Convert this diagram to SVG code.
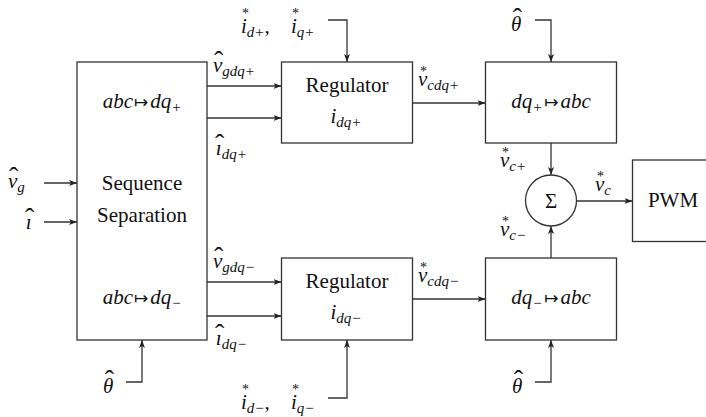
<svg xmlns="http://www.w3.org/2000/svg" width="706" height="417" viewBox="0 0 706 417">
<style>
.box{fill:#fff;stroke:#333;stroke-width:1.3}
.w{fill:none;stroke:#333;stroke-width:1.3}
.a{marker-end:url(#ah)}
text{font-family:'Liberation Serif','DejaVu Serif',serif;fill:#111}
.m{font-style:italic;font-size:21px}
.s{font-style:italic;font-size:15px}
.t{font-size:21px}
.as{font-style:normal;font-size:14px}
.hat{font-style:normal;font-size:28px}
.c{text-anchor:middle}
.n{font-style:normal;font-family:'DejaVu Sans',sans-serif;font-size:17px}
</style>
<defs>
<marker id="ah" viewBox="0 0 8 6" refX="8" refY="3" markerWidth="8" markerHeight="6" markerUnits="userSpaceOnUse" orient="auto">
<path d="M0,0 L8,3 L0,6 L2,3 z" fill="#222"/>
</marker>
</defs>
<rect width="706" height="417" fill="#fff"/>

<g id="connectors">
<path class="w a" d="M44,183 H77"/>
<path class="w a" d="M44,222 H77"/>
<path class="w a" d="M207,86 H281.5"/>
<path class="w a" d="M207,118 H281.5"/>
<path class="w a" d="M207,282 H281.5"/>
<path class="w a" d="M207,316 H281.5"/>
<path class="w a" d="M328,20 H347 V62"/>
<path class="w a" d="M328,398 H347 V340"/>
<path class="w a" d="M412.5,103 H485.5"/>
<path class="w a" d="M412.5,299 H485.5"/>
<path class="w a" d="M535,20 H551 V62"/>
<path class="w a" d="M535,382 H551 V340"/>
<path class="w a" d="M126,382 H142 V340"/>
<path class="w a" d="M551,143 V175"/>
<path class="w a" d="M551,258 V226"/>
<path class="w a" d="M576.5,201 H632.5"/>
</g>

<g id="sep">
<rect class="box" x="77" y="62" width="130" height="278"/>
<text class="m c" x="142" y="108">abc<tspan class="n" dx="1">↦</tspan><tspan dx="2">dq</tspan><tspan class="s" dy="4">+</tspan></text>
<text class="t c" x="142" y="190">Sequence</text>
<text class="t c" x="142" y="222">Separation</text>
<text class="m c" x="142" y="304">abc<tspan class="n" dx="1">↦</tspan><tspan dx="2">dq</tspan><tspan class="s" dy="4">−</tspan></text>
</g>

<g id="reg_plus">
<rect class="box" x="281.5" y="62" width="131" height="81"/>
<text class="t c" x="347" y="92">Regulator</text>
<text class="m c" x="346" y="123">i<tspan class="s" dy="4">dq+</tspan></text>
</g>

<g id="reg_minus">
<rect class="box" x="281.5" y="258" width="131" height="82"/>
<text class="t c" x="347" y="288">Regulator</text>
<text class="m c" x="346" y="319">i<tspan class="s" dy="4">dq−</tspan></text>
</g>

<g id="inv_plus">
<rect class="box" x="485.5" y="62" width="131" height="81"/>
<text class="m c" x="551" y="108">dq<tspan class="s" dy="4">+</tspan><tspan class="n" dy="-4" dx="2">↦</tspan><tspan dx="2">abc</tspan></text>
</g>

<g id="inv_minus">
<rect class="box" x="485.5" y="258" width="131" height="82"/>
<text class="m c" x="551" y="304">dq<tspan class="s" dy="4">−</tspan><tspan class="n" dy="-4" dx="2">↦</tspan><tspan dx="2">abc</tspan></text>
</g>

<g id="sum">
<circle class="box" cx="551" cy="200.5" r="25.5"/>
<text class="t c" x="551" y="208">Σ</text>
</g>

<g id="pwm">
<rect class="box" x="632.5" y="160" width="80" height="81.5"/>
<text class="t c" x="673" y="207">PWM</text>
</g>

<g id="labels">
<text class="m" x="213" y="72">v<tspan class="hat" dx="-8.3" dy="-2.5">ˆ</tspan><tspan class="s" dx="-1" dy="6.5">gdq+</tspan></text>
<text class="m" x="215" y="155">ı<tspan class="hat" dx="-6.6" dy="-2.5">ˆ</tspan><tspan class="s" dx="-2.7" dy="6.5">dq+</tspan></text>
<text class="m" x="213" y="268">v<tspan class="hat" dx="-8.3" dy="-2.5">ˆ</tspan><tspan class="s" dx="-1" dy="6.5">gdq−</tspan></text>
<text class="m" x="215" y="345">ı<tspan class="hat" dx="-6.6" dy="-2.5">ˆ</tspan><tspan class="s" dx="-2.7" dy="6.5">dq−</tspan></text>
<text class="m" x="8" y="188">v<tspan class="hat" dx="-8.3" dy="-2.5">ˆ</tspan><tspan class="s" dx="-1" dy="6.5">g</tspan></text>
<text class="m" x="25" y="229">ı<tspan class="hat" dx="-6.6" dy="-2.5">ˆ</tspan></text>

<text class="m" x="241" y="33">i<tspan class="as" dx="-4.8" dy="-15">*</tspan><tspan class="s" dx="-2.2" dy="19">d+</tspan><tspan dy="-4">,</tspan></text>
<text class="m" x="291" y="33">i<tspan class="as" dx="-4.8" dy="-15">*</tspan><tspan class="s" dx="-2.2" dy="19">q+</tspan></text>
<text class="m" x="241" y="409">i<tspan class="as" dx="-4.8" dy="-15">*</tspan><tspan class="s" dx="-2.2" dy="19">d−</tspan><tspan dy="-4">,</tspan></text>
<text class="m" x="291" y="409">i<tspan class="as" dx="-4.8" dy="-15">*</tspan><tspan class="s" dx="-2.2" dy="19">q−</tspan></text>

<text class="m" x="511" y="31">θ<tspan class="hat" dx="-8.6" dy="-4.5">ˆ</tspan></text>
<text class="m" x="103" y="393">θ<tspan class="hat" dx="-8.6" dy="-4.5">ˆ</tspan></text>
<text class="m" x="512" y="393">θ<tspan class="hat" dx="-8.6" dy="-4.5">ˆ</tspan></text>

<text class="m" x="418" y="86">v<tspan class="as" dx="-7.3" dy="-10">*</tspan><tspan class="s" dx="0.3" dy="14">cdq+</tspan></text>
<text class="m" x="500" y="167">v<tspan class="as" dx="-7.3" dy="-10">*</tspan><tspan class="s" dx="0.3" dy="14">c+</tspan></text>
<text class="m" x="595" y="191">v<tspan class="as" dx="-7.3" dy="-10">*</tspan><tspan class="s" dx="0.3" dy="14">c</tspan></text>
<text class="m" x="500" y="236">v<tspan class="as" dx="-7.3" dy="-10">*</tspan><tspan class="s" dx="0.3" dy="14">c−</tspan></text>
<text class="m" x="418" y="282">v<tspan class="as" dx="-7.3" dy="-10">*</tspan><tspan class="s" dx="0.3" dy="14">cdq−</tspan></text>
</g>
</svg>
